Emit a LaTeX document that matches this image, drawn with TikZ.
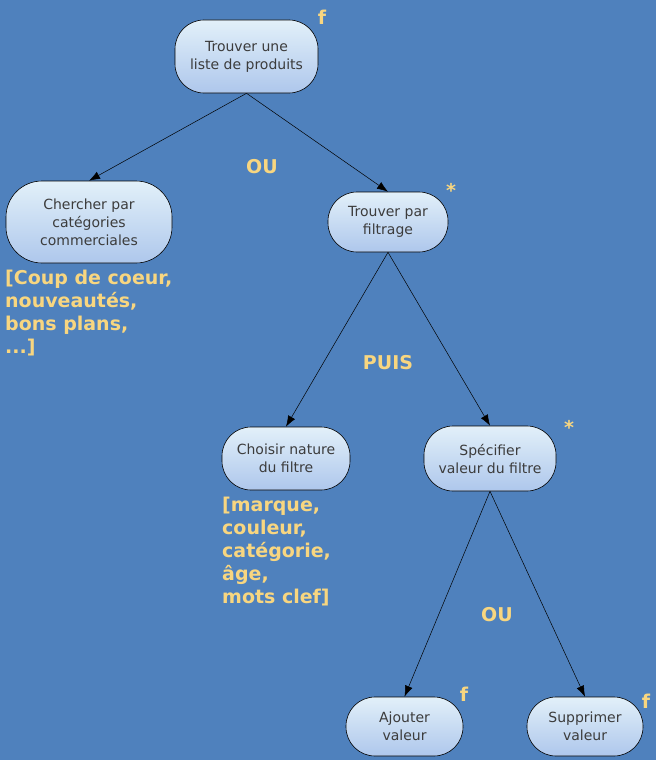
\documentclass[tikz,border=0pt]{standalone}
\usepackage{fontspec}
\setmainfont{DejaVu Sans}
\usetikzlibrary{arrows.meta}
\definecolor{fond}{HTML}{4F81BD}
\definecolor{jaune}{HTML}{F8D680}
\definecolor{texte}{HTML}{3C3C3C}
\definecolor{haut}{HTML}{E2F0F9}
\definecolor{bas}{HTML}{AEC7EC}
\begin{document}
\begin{tikzpicture}[x=1pt, y=-1pt,
    arrow/.style = {line width=0.5pt,-{Latex[length=11pt,width=8pt]}},
    tache/.style = {draw=black, line width=0.6pt, rounded corners=29pt,
                    top color=haut, bottom color=bas, text=texte, align=center,
                    font=\fontsize{14}{18}\selectfont, inner sep=2pt},
    note/.style  = {text=jaune, font=\fontsize{19}{23}\selectfont\bfseries,
                    align=left, inner sep=0pt}]
    % fond
    \fill[fond] (0,0) rectangle (656,760);
    \useasboundingbox (0,0) rectangle (656,760);

    % taches
    \node[tache, minimum width=143pt, minimum height=73pt] (liste) at (246.5,56.5) {Trouver une\\liste de produits};
    \node[tache, minimum width=166pt, minimum height=82pt, rounded corners=36pt] (categ) at (89,222) {Chercher par\\catégories\\commerciales};
    \node[tache, minimum width=120pt, minimum height=60pt] (filtrage) at (388,222) {Trouver par\\filtrage};
    \node[tache, minimum width=128pt, minimum height=63pt] (nature) at (286,458.5) {Choisir nature\\du filtre};
    \node[tache, minimum width=132pt, minimum height=65pt] (valeur) at (490,458.5) {Spécifier\\valeur du filtre};
    \node[tache, minimum width=117pt, minimum height=59pt] (ajout) at (404.5,726.5) {Ajouter\\valeur};
    \node[tache, minimum width=116pt, minimum height=59pt] (suppr) at (585,726.5) {Supprimer\\valeur};

    % liens
    \draw[arrow] (liste.south) -- (categ.north);
    \draw[arrow] (liste.south) -- (filtrage.north);
    \draw[arrow] (filtrage.south) -- (nature.north);
    \draw[arrow] (filtrage.south) -- (valeur.north);
    \draw[arrow] (valeur.south) -- (ajout.north);
    \draw[arrow] (valeur.south) -- (suppr.north);

    % annotations
    \node[note] (f1) at (322,17) {f};
    \node[note] (ou1) at (262,167) {OU};
    \node[note] (et1) at (451,190) {*};
    \node[note, anchor=north west] (exemples1) at (5,270) {[Coup de coeur,\\nouveautés,\\bons plans,\\...]};
    \node[note] (puis) at (388,363) {PUIS};
    \node[note] (et2) at (569,427) {*};
    \node[note, anchor=north west] (exemples2) at (222,497) {[marque,\\couleur,\\catégorie,\\âge,\\mots clef]};
    \node[note] (ou2) at (497,615) {OU};
    \node[note] (f2) at (464,694) {f};
    \node[note] (f3) at (646,701) {f};
\end{tikzpicture}
\end{document}
